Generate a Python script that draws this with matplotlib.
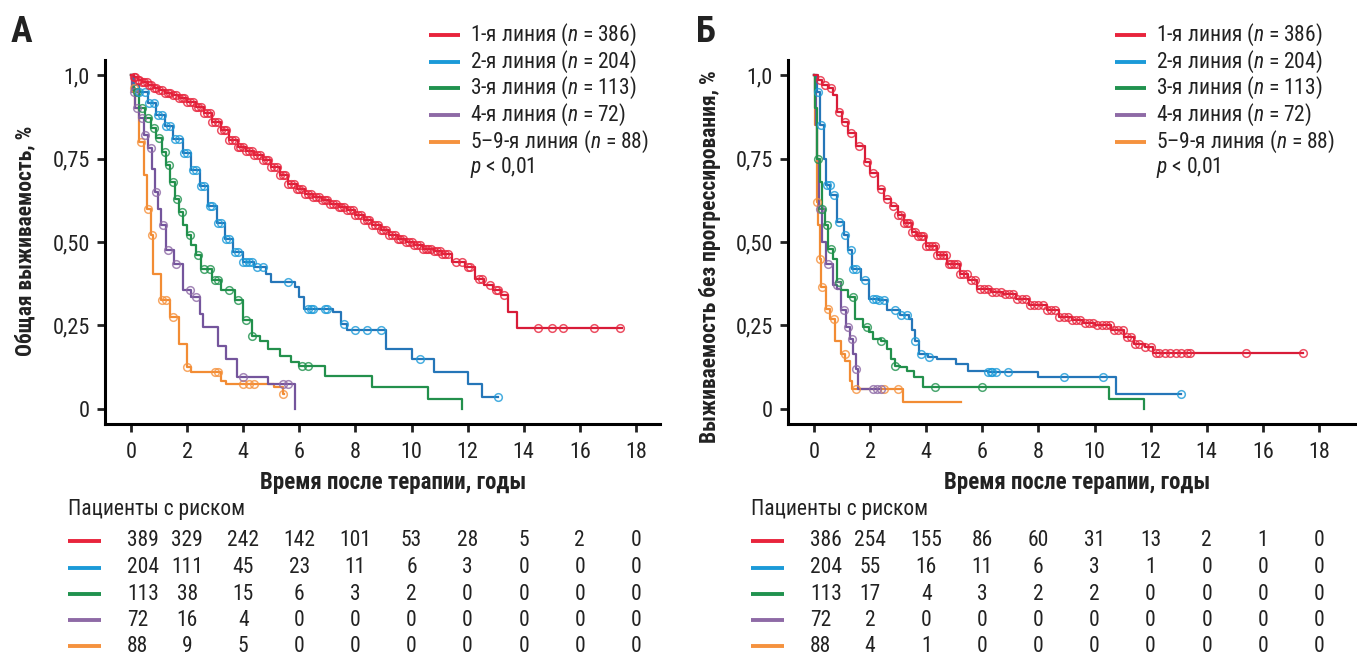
import numpy as np
import matplotlib
matplotlib.use("Agg")
import matplotlib.pyplot as plt
from matplotlib import font_manager
from matplotlib.lines import Line2D
from matplotlib import transforms

# -----------------------------------------------------------------------------
# Fonts: prefer a condensed sans if one is installed
# -----------------------------------------------------------------------------
names = {f.name for f in font_manager.fontManager.ttflist}
base = "DejaVu Sans"
for cand in ["Roboto Condensed", "Liberation Sans Narrow", "Open Sans Condensed", "Roboto"]:
    if cand in names:
        base = cand
        break
plt.rcParams["font.family"] = [base, "DejaVu Sans"]
plt.rcParams["mathtext.fontset"] = "custom"
plt.rcParams["mathtext.it"] = base + ":italic"
plt.rcParams["mathtext.rm"] = base

# -----------------------------------------------------------------------------
# Data
# -----------------------------------------------------------------------------
line_names = ["1-я линия", "2-я линия", "3-я линия", "4-я линия", "5–9-я линия"]
line_n = [386, 204, 113, 72, 88]
colors = ["#e8243c", "#1b9ad8", "#20924e", "#8e6aa6", "#f5923e"]
line_colors = ["#d81c38", "#2576b8", "#23904c", "#74559c", "#f28c34"]

years = [0, 2, 4, 6, 8, 10, 12, 14, 16, 18]
risk_os = [
    [389, 329, 242, 142, 101, 53, 28, 5, 2, 0],
    [204, 111, 45, 23, 11, 6, 3, 0, 0, 0],
    [113, 38, 15, 6, 3, 2, 0, 0, 0, 0],
    [72, 16, 4, 0, 0, 0, 0, 0, 0, 0],
    [88, 9, 5, 0, 0, 0, 0, 0, 0, 0],
]
risk_pfs = [
    [386, 254, 155, 86, 60, 31, 13, 2, 1, 0],
    [204, 55, 16, 11, 6, 3, 1, 0, 0, 0],
    [113, 17, 4, 3, 2, 2, 0, 0, 0, 0],
    [72, 2, 0, 0, 0, 0, 0, 0, 0, 0],
    [88, 4, 1, 0, 0, 0, 0, 0, 0, 0],
]

# overall survival (panel A): step times / survival / censor times
os_t1 = [0, 0.1, 0.25, 0.4, 0.6, 0.8, 1.0, 1.2, 1.45, 1.7, 2.0, 2.3, 2.6, 2.9, 3.2, 3.5,
         3.8, 4.1, 4.4, 4.7, 5.0, 5.3, 5.6, 5.9, 6.2, 6.5, 6.8, 7.1, 7.4, 7.7, 8.0, 8.3,
         8.6, 8.9, 9.2, 9.5, 9.8, 10.1, 10.4, 10.8, 11.1, 11.45, 11.9, 12.25, 12.6, 12.9,
         13.2, 13.45, 13.75, 17.5]
os_s1 = [1.0, 0.993, 0.985, 0.978, 0.97, 0.962, 0.955, 0.947, 0.94, 0.93, 0.92, 0.905,
         0.885, 0.86, 0.835, 0.805, 0.785, 0.772, 0.76, 0.745, 0.725, 0.70, 0.675, 0.66,
         0.645, 0.635, 0.625, 0.615, 0.605, 0.595, 0.58, 0.565, 0.55, 0.535, 0.52, 0.51,
         0.50, 0.492, 0.48, 0.472, 0.465, 0.44, 0.425, 0.39, 0.37, 0.355, 0.34, 0.29,
         0.242, 0.242]
os_c1 = [0.1, 0.15, 0.25, 0.3, 0.4, 0.45, 0.55, 0.65, 0.7, 0.8, 0.9, 1.0, 1.1, 1.2, 1.3,
         1.4, 1.5, 1.6, 1.7, 1.8, 1.9, 2.0, 2.1, 2.2, 2.3, 2.4, 2.5, 2.6, 2.7, 2.8, 2.9,
         3.0, 3.1, 3.2, 3.3, 3.4, 3.5, 3.6, 3.7, 3.8, 3.9, 4.0, 4.1, 4.2, 4.3, 4.4, 4.5,
         4.6, 4.7, 4.8, 4.9, 5.0, 5.1, 5.2, 5.3, 5.4, 5.5, 5.6, 5.7, 5.8, 5.9, 6.0, 6.1,
         6.2, 6.3, 6.4, 6.5, 6.6, 6.7, 6.8, 6.9, 7.0, 7.1, 7.2, 7.3, 7.4, 7.5, 7.6, 7.7,
         7.8, 7.9, 8.0, 8.1, 8.2, 8.3, 8.4, 8.5, 8.6, 8.7, 8.8, 8.9, 9.0, 9.1, 9.2, 9.3,
         9.4, 9.5, 9.6, 9.7, 9.8, 9.9, 10.0, 10.1, 10.2, 10.3, 10.4, 10.5, 10.6, 10.7,
         10.8, 10.9, 11.0, 11.1, 11.2, 11.3, 11.6, 11.8, 12.0, 12.1, 12.4, 12.5, 12.8,
         13.0, 13.1, 13.3, 14.5, 15.0, 15.4, 16.5, 17.45]

os_t2 = [0, 0.1, 0.3, 0.6, 0.9, 1.2, 1.5, 1.85, 2.15, 2.45, 2.75, 3.05, 3.35, 3.65, 4.0,
         4.4, 4.8, 5.0, 5.85, 6.0, 6.15, 7.2, 7.5, 7.7, 9.1, 10.0, 10.8, 12.0, 12.5, 13.1]
os_s2 = [1.0, 0.97, 0.95, 0.917, 0.88, 0.847, 0.807, 0.767, 0.717, 0.667, 0.607, 0.557,
         0.51, 0.47, 0.44, 0.425, 0.405, 0.38, 0.365, 0.335, 0.30, 0.29, 0.255, 0.237,
         0.18, 0.15, 0.11, 0.075, 0.035, 0.035]
os_c2 = [0.3, 0.5, 0.65, 0.8, 0.95, 1.1, 1.25, 1.4, 1.55, 1.7, 1.9, 2.0, 2.2, 2.3, 2.5,
         2.6, 2.8, 2.9, 3.1, 3.2, 3.4, 3.5, 3.7, 3.8, 4.0, 4.1, 4.2, 4.3, 4.5, 4.7, 5.6,
         6.3, 6.4, 6.5, 6.9, 7.0, 7.6, 8.0, 8.4, 8.9, 10.3, 13.1]

os_t3 = [0, 0.1, 0.3, 0.5, 0.7, 0.9, 1.1, 1.25, 1.4, 1.55, 1.7, 1.85, 2.0, 2.15, 2.3, 2.5,
         2.9, 3.2, 3.7, 4.0, 4.3, 4.6, 4.9, 5.3, 5.7, 6.0, 6.9, 8.6, 10.6, 11.8]
os_s3 = [1.0, 0.95, 0.9, 0.87, 0.84, 0.81, 0.77, 0.73, 0.68, 0.63, 0.59, 0.55, 0.52,
         0.49, 0.46, 0.42, 0.385, 0.355, 0.325, 0.265, 0.22, 0.205, 0.18, 0.16, 0.14,
         0.13, 0.10, 0.065, 0.03, 0.0]
os_c3 = [0.2, 0.4, 0.6, 0.8, 1.0, 1.2, 1.35, 1.5, 1.65, 1.8, 2.1, 2.4, 2.6, 2.8, 3.0,
         3.1, 3.5, 3.8, 4.1, 4.3, 6.1, 6.3]

os_t4 = [0, 0.05, 0.15, 0.3, 0.45, 0.6, 0.75, 0.85, 0.95, 1.08, 1.23, 1.54, 1.85, 2.15,
         2.46, 2.55, 3.1, 3.4, 3.77, 4.9, 5.85]
os_s4 = [1.0, 0.95, 0.9, 0.87, 0.82, 0.78, 0.72, 0.65, 0.6, 0.55, 0.475, 0.435, 0.355,
         0.335, 0.285, 0.245, 0.19, 0.15, 0.095, 0.075, 0.0]
os_c4 = [0.1, 0.2, 0.4, 0.5, 0.7, 0.9, 1.15, 1.3, 1.6, 2.1, 2.3, 4.0, 5.4, 5.6]

os_t5 = [0, 0.05, 0.15, 0.3, 0.45, 0.55, 0.7, 0.77, 1.08, 1.38, 1.7, 2.0, 2.15, 3.2, 3.4,
         5.1, 5.4, 5.45]
os_s5 = [1.0, 0.96, 0.9, 0.8, 0.7, 0.6, 0.52, 0.405, 0.325, 0.275, 0.195, 0.125, 0.11,
         0.085, 0.075, 0.065, 0.045, 0.045]
os_c5 = [0.1, 0.35, 0.6, 0.75, 1.1, 1.25, 1.5, 2.0, 3.0, 3.1, 4.0, 4.2, 4.4, 5.4]

# progression-free survival (panel Б)
pfs_t1 = [0, 0.15, 0.3, 0.5, 0.66, 0.82, 1.0, 1.2, 1.5, 1.8, 2.0, 2.28, 2.5, 2.74, 3.0,
          3.2, 3.5, 3.67, 4.0, 4.4, 4.75, 5.2, 5.5, 5.8, 6.3, 6.75, 7.2, 7.67, 8.3, 8.75,
          9.2, 9.6, 10.0, 10.6, 11.06, 11.4, 11.8, 12.1, 17.45]
pfs_s1 = [1.0, 0.985, 0.97, 0.96, 0.94, 0.89, 0.86, 0.827, 0.787, 0.74, 0.707, 0.66, 0.63,
          0.607, 0.58, 0.557, 0.53, 0.517, 0.487, 0.46, 0.435, 0.405, 0.385, 0.36, 0.35,
          0.345, 0.33, 0.31, 0.295, 0.275, 0.265, 0.257, 0.25, 0.235, 0.215, 0.195, 0.185,
          0.168, 0.168]
pfs_c1 = [0.2, 0.4, 0.6, 0.9, 1.1, 1.3, 1.6, 1.9, 2.1, 2.4, 2.6, 2.8, 3.0, 3.1, 3.2, 3.3,
          3.4, 3.5, 3.6, 3.7, 3.8, 3.9, 4.0, 4.1, 4.2, 4.3, 4.4, 4.5, 4.6, 4.7, 4.8, 4.9,
          5.0, 5.1, 5.2, 5.3, 5.45, 5.6, 5.75, 5.9, 6.05, 6.2, 6.35, 6.5, 6.65, 6.8, 6.95,
          7.1, 7.25, 7.4, 7.55, 7.7, 7.85, 8.0, 8.15, 8.3, 8.45, 8.6, 8.75, 8.9, 9.05,
          9.2, 9.35, 9.5, 9.65, 9.8, 9.95, 10.1, 10.25, 10.4, 10.55, 10.7, 10.85, 11.0,
          11.15, 11.3, 11.45, 11.6, 11.8, 12.0, 12.2, 12.3, 12.5, 12.7, 12.9, 13.1, 13.3,
          13.4, 15.4, 17.45]

pfs_t2 = [0, 0.1, 0.2, 0.35, 0.43, 0.58, 0.82, 1.05, 1.2, 1.35, 1.66, 1.97, 2.3, 2.6,
          3.05, 3.4, 3.5, 3.6, 3.75, 4.05, 4.4, 5.05, 5.5, 6.2, 7.98, 10.75, 13.07]
pfs_s2 = [1.0, 0.95, 0.85, 0.75, 0.67, 0.64, 0.56, 0.52, 0.475, 0.42, 0.385, 0.33, 0.325,
          0.295, 0.28, 0.27, 0.235, 0.205, 0.165, 0.155, 0.15, 0.135, 0.115, 0.11, 0.095,
          0.045, 0.045]
pfs_c2 = [0.15, 0.25, 0.45, 0.55, 0.7, 0.9, 1.1, 1.3, 1.4, 1.5, 1.8, 2.1, 2.2, 2.3, 2.5,
          2.9, 3.1, 3.3, 3.6, 3.8, 4.1, 6.2, 6.3, 6.35, 6.5, 6.9, 8.9, 10.3, 13.07]

pfs_t3 = [0, 0.05, 0.12, 0.2, 0.28, 0.4, 0.5, 0.66, 0.82, 0.97, 1.2, 1.45, 1.75, 1.95,
          2.1, 2.4, 2.6, 2.75, 2.9, 3.05, 3.3, 3.55, 3.9, 10.5, 11.75]
pfs_s3 = [1.0, 0.9, 0.75, 0.68, 0.6, 0.55, 0.48, 0.45, 0.38, 0.355, 0.335, 0.27, 0.245,
          0.23, 0.21, 0.205, 0.18, 0.15, 0.13, 0.125, 0.115, 0.095, 0.067, 0.03, 0.0]
pfs_c3 = [0.15, 0.3, 0.45, 0.6, 0.9, 1.4, 1.9, 2.4, 2.9, 4.3, 6.0]

pfs_t4 = [0, 0.02, 0.06, 0.1, 0.17, 0.28, 0.43, 0.66, 0.82, 0.97, 1.13, 1.28, 1.4, 1.48,
          1.55, 2.4]
pfs_s4 = [1.0, 0.95, 0.85, 0.75, 0.6, 0.5, 0.435, 0.37, 0.36, 0.295, 0.245, 0.21, 0.165,
          0.12, 0.06, 0.06]
pfs_c4 = [0.2, 0.5, 0.8, 1.05, 1.2, 1.35, 1.5, 2.1, 2.25, 2.4]

pfs_t5 = [0, 0.05, 0.1, 0.15, 0.2, 0.25, 0.43, 0.58, 0.74, 0.97, 1.12, 1.28, 1.35, 3.17,
          5.25]
pfs_s5 = [1.0, 0.85, 0.62, 0.55, 0.45, 0.365, 0.30, 0.27, 0.205, 0.165, 0.145, 0.085,
          0.06, 0.02, 0.02]
pfs_c5 = [0.1, 0.2, 0.3, 0.5, 0.7, 1.1, 1.5, 2.5, 3.0]

os_curves = [(os_t1, os_s1, os_c1), (os_t2, os_s2, os_c2), (os_t3, os_s3, os_c3),
             (os_t4, os_s4, os_c4), (os_t5, os_s5, os_c5)]
pfs_curves = [(pfs_t1, pfs_s1, pfs_c1), (pfs_t2, pfs_s2, pfs_c2), (pfs_t3, pfs_s3, pfs_c3),
              (pfs_t4, pfs_s4, pfs_c4), (pfs_t5, pfs_s5, pfs_c5)]

# -----------------------------------------------------------------------------
# Figure
# -----------------------------------------------------------------------------
W, H = 1357, 657
fig = plt.figure(figsize=(W / 100, H / 100), dpi=100)
TXT = "#222222"


def fx(px):
    return px / W


def fy(py):
    return 1 - py / H


def draw_panel(ax, curves, xmax):
    for i in reversed(range(len(curves))):
        t, s, c = curves[i]
        t = np.asarray(t)
        s = np.asarray(s)
        ax.step(t, s, where="post", color=line_colors[i], lw=1.6, zorder=3)
        idx = np.searchsorted(t, c, side="right") - 1
        ax.plot(c, s[idx], ls="none", marker="o", ms=5.5, mfc="none", mew=1.1,
                mec=colors[i], alpha=0.8, zorder=4)
    ax.set_xlim(-0.93, xmax)
    ax.set_ylim(-0.045, 1.045)
    ax.set_xticks(years)
    ax.set_xticklabels([str(y) for y in years])
    ax.set_yticks([0, 0.25, 0.5, 0.75, 1.0])
    ax.set_yticklabels(["0", "0,25", "0,50", "0,75", "1,0"])
    for sp in ["top", "right"]:
        ax.spines[sp].set_visible(False)
    for sp in ["left", "bottom"]:
        ax.spines[sp].set_linewidth(2.2)
    ax.tick_params(axis="both", direction="out", length=6, width=2, labelsize=16,
                   colors=TXT)
    ax.tick_params(axis="y", pad=5)
    ax.tick_params(axis="x", pad=7)
    ax.patch.set_alpha(0)


def draw_legend(x_line, x_text):
    rows = [35, 62, 88, 115, 142]
    for i, y in enumerate(rows):
        fig.add_artist(Line2D([fx(x_line), fx(x_line + 31)], [fy(y), fy(y)],
                              color=colors[i], lw=2.8, solid_capstyle="butt"))
        fig.text(fx(x_text), fy(y), f"{line_names[i]} ($n$ = {line_n[i]})",
                 fontsize=15.5, va="center", ha="left", color=TXT)
    fig.text(fx(x_text), fy(168), "$p$ < 0,01", fontsize=15.5, va="center", ha="left",
             color=TXT)


def draw_risk(ax, table, x_line):
    tr = transforms.blended_transform_factory(ax.transData, fig.transFigure)
    fig.text(fx(x_line), fy(510), "Пациенты с риском", fontsize=15.5, va="center",
             ha="left", color=TXT)
    rows = [541, 567.5, 594, 620, 646]
    for i, y in enumerate(rows):
        fig.add_artist(Line2D([fx(x_line), fx(x_line + 33)], [fy(y), fy(y)],
                              color=colors[i], lw=2.8, solid_capstyle="butt"))
        for j, yr in enumerate(years):
            if j == 0:
                ax.text(-0.15, fy(y), str(table[i][j]), transform=tr, fontsize=15.5,
                        ha="left", va="center", color=TXT)
            else:
                ax.text(yr, fy(y), str(table[i][j]), transform=tr, fontsize=15.5,
                        ha="center", va="center", color=TXT)


AX_H = 424 - 60
XLAB_Y = -(482 - 424) / AX_H

# Panel A
axA = fig.add_axes([fx(105), fy(424), fx(660 - 105), AX_H / H])
draw_panel(axA, os_curves, 18.86)
axA.set_xlabel("Время после терапии, годы", fontsize=16.5, fontweight="bold", color=TXT)
axA.xaxis.set_label_coords((393 - 105) / 555, XLAB_Y)
axA.xaxis.label.set_va("center")
fig.text(fx(25), fy(241), "Общая выживаемость, %", rotation=90, fontsize=15.5,
         fontweight="bold", ha="center", va="center", color=TXT)
fig.text(fx(11), fy(32), "А", fontsize=26, fontweight="bold", ha="left", va="center",
         color=TXT)
draw_legend(429, 470)
draw_risk(axA, risk_os, 68)

# Panel Б
axB = fig.add_axes([fx(788), fy(424), fx(W - 788), AX_H / H])
draw_panel(axB, pfs_curves, 19.36)
axB.set_xlabel("Время после терапии, годы", fontsize=16.5, fontweight="bold", color=TXT)
axB.xaxis.set_label_coords((1077 - 788) / (W - 788), XLAB_Y)
axB.xaxis.label.set_va("center")
fig.text(fx(710), fy(257), "Выживаемость без прогрессирования, %", rotation=90,
         fontsize=15.5, fontweight="bold", ha="center", va="center", color=TXT)
fig.text(fx(696), fy(32), "Б", fontsize=26, fontweight="bold", ha="left", va="center",
         color=TXT)
draw_legend(1115, 1156)
draw_risk(axB, risk_pfs, 751)

fig.savefig("out.png", dpi=100)
